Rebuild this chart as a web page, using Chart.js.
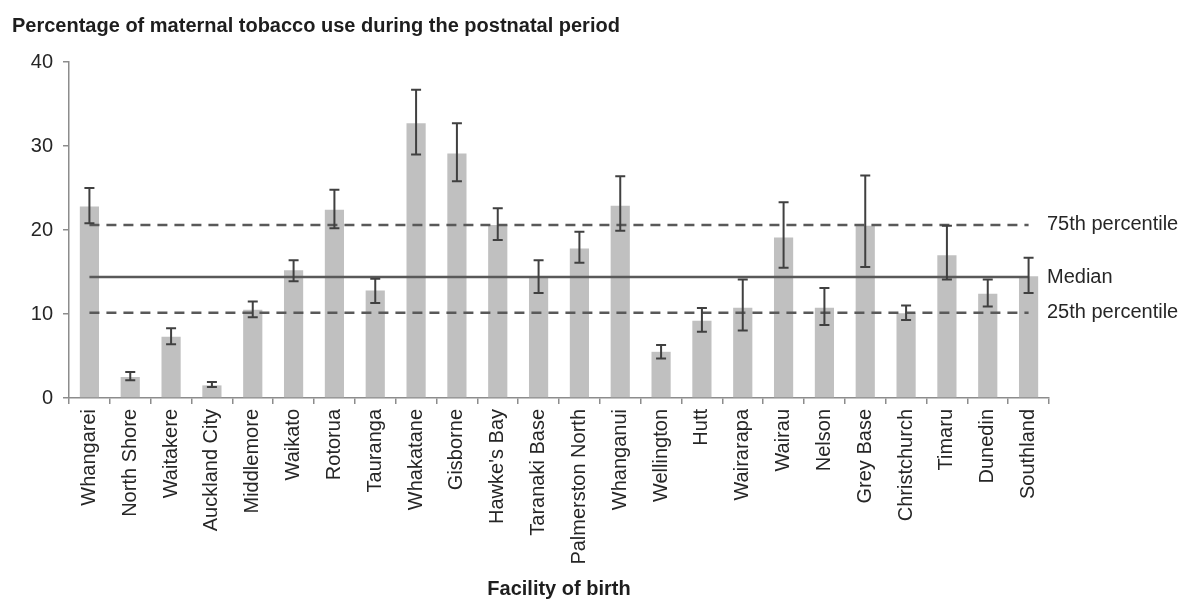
<!DOCTYPE html>
<html>
<head>
<meta charset="utf-8">
<script src="https://cdn.jsdelivr.net/npm/chart.js@4"></script>
<style>
  body { margin:0; background:#fff; }
</style>
</head>
<body>
<canvas id="chart" width="1181" height="601"></canvas>
<script>
// tobacco use during postnatal period, by facility of birth
const facilities = ['Whangarei','North Shore','Waitakere','Auckland City','Middlemore','Waikato','Rotorua','Tauranga',
  'Whakatane','Gisborne',"Hawke's Bay",'Taranaki Base','Palmerston North','Whanganui','Wellington','Hutt',
  'Wairarapa','Wairau','Nelson','Grey Base','Christchurch','Timaru','Dunedin','Southland'];
const pct   = [22.8, 2.5, 7.3, 1.5, 10.5, 15.2, 22.4, 12.8, 32.7, 29.1, 20.6, 14.3, 17.8, 22.9, 5.5, 9.2, 10.75, 19.1, 10.75, 20.5, 10.1, 17.0, 12.4, 14.5];
const lower = [20.8, 2.1, 6.4, 1.3, 9.6, 13.9, 20.2, 11.3, 29.0, 25.8, 18.8, 12.5, 16.1, 19.9, 4.7, 7.9, 8.05, 15.5, 8.7, 15.6, 9.3, 14.1, 10.9, 12.5];
const upper = [25.0, 3.1, 8.3, 1.9, 11.5, 16.4, 24.8, 14.2, 36.7, 32.7, 22.6, 16.4, 19.8, 26.4, 6.3, 10.7, 14.1, 23.3, 13.1, 26.5, 11.0, 20.5, 14.1, 16.7];
const refNames  = ['75th percentile','Median','25th percentile'];
const refValues = [20.6, 14.4, 10.15];
const yTicks = [0, 10, 20, 30, 40];

const FONT = 'Liberation Sans, Arial, sans-serif';
const TXT = '#262626';
const AXIS = '#8c8c8c';

const errorBars = {
  id:'errorBars',
  afterDatasetsDraw(chart) {
    const { ctx, scales:{ x, y } } = chart;
    ctx.save();
    ctx.strokeStyle = '#404040';
    ctx.lineWidth = 2;
    pct.forEach((v,i) => {
      const cx = x.getPixelForValue(i);
      const t = y.getPixelForValue(upper[i]), b = y.getPixelForValue(lower[i]);
      ctx.beginPath();
      ctx.moveTo(cx, t); ctx.lineTo(cx, b);
      ctx.moveTo(cx-5, t); ctx.lineTo(cx+5, t);
      ctx.moveTo(cx-5, b); ctx.lineTo(cx+5, b);
      ctx.stroke();
    });
    ctx.restore();
  }
};

const textBits = {
  id:'textBits',
  afterDraw(chart) {
    const { ctx, chartArea, scales:{ y } } = chart;
    ctx.save();
    ctx.fillStyle = TXT;
    ctx.textBaseline = 'middle';
    ctx.font = '20px ' + FONT;
    refNames.forEach((n,i) => ctx.fillText(n, chartArea.right - 2, y.getPixelForValue(refValues[i])));
    ctx.fillStyle = '#1e1e1e';
    ctx.font = 'bold 20px ' + FONT;
    ctx.fillText('Percentage of maternal tobacco use during the postnatal period', 12, 26);
    ctx.restore();
  }
};

const refSet = (i, dash) => ({
  type:'line', label:refNames[i], data:facilities.map(() => refValues[i]),
  borderColor:'#595959', borderWidth:2.5, borderDash:dash, pointRadius:0, order:0
});

new Chart(document.getElementById('chart'), {
  type:'bar',
  data:{
    labels:facilities,
    datasets:[
      refSet(0,[10,7]), refSet(1,[]), refSet(2,[10,7]),
      { label:'Percent', data:pct, backgroundColor:'#c0c0c0', barPercentage:0.47, categoryPercentage:1, order:1 }
    ]
  },
  options:{
    responsive:false, animation:false,
    layout:{ padding:{ top:62, right:132, left:12, bottom:0 } },
    plugins:{ legend:{ display:false }, tooltip:{ enabled:false } },
    scales:{
      x:{
        grid:{ drawOnChartArea:false, offset:true, color:AXIS, tickLength:6, lineWidth:1.5 },
        border:{ color:AXIS, width:1.5 },
        ticks:{ color:TXT, font:{ family:FONT, size:20 }, maxRotation:90, minRotation:90, padding:5, autoSkip:false },
        title:{ display:true, text:'Facility of birth', color:'#1e1e1e', font:{ family:FONT, size:20, weight:'bold' }, padding:{ top:4, bottom:0 } },
        afterFit(s) { s.height = 203; }
      },
      y:{
        min:0, max:40,
        afterBuildTicks(s) { s.ticks = yTicks.map(v => ({ value:v })); },
        grid:{ drawOnChartArea:false, color:AXIS, tickLength:6, lineWidth:1.5 },
        border:{ color:AXIS, width:1.5 },
        ticks:{ color:TXT, font:{ family:FONT, size:20 }, padding:10 },
        afterFit(s) { s.width = 57; }
      }
    }
  },
  plugins:[errorBars, textBits]
});
</script>
</body>
</html>
